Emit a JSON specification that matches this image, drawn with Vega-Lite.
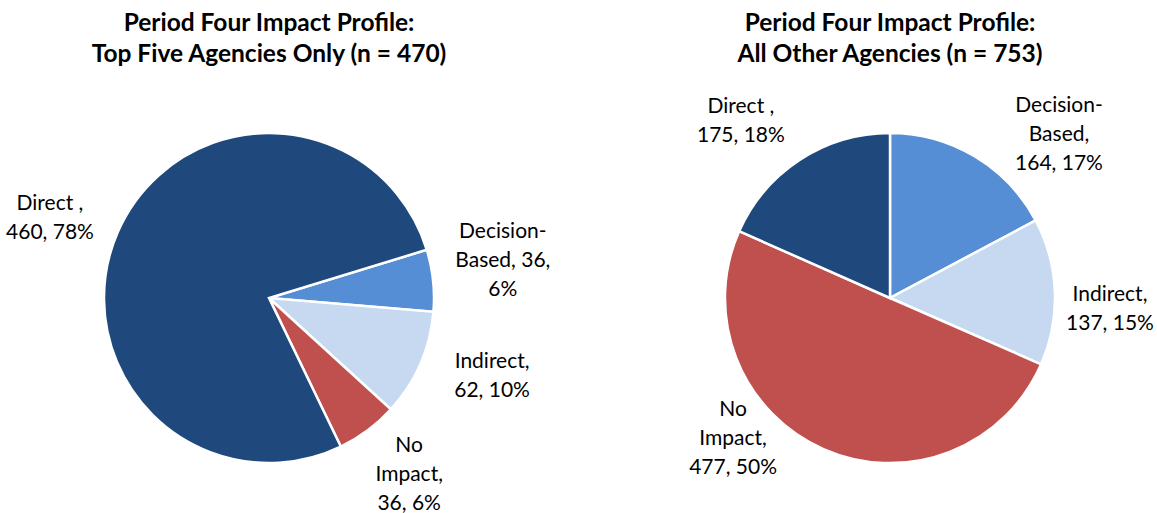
{
  "$schema": "https://vega.github.io/schema/vega-lite/v6.json",
  "padding": {"top": 10, "left": 0, "right": 0, "bottom": 0},
  "background": "white",
  "bounds": "flush",
  "spacing": 85,
  "config": {"view": {"stroke": null}, "font": "Lato"},
  "datasets": {
    "top5": [
      {"category": "Decision-Based", "count": 36, "label": "Decision-\nBased, 36,\n6%", "k": 1},
      {"category": "Indirect", "count": 62, "label": "Indirect,\n62, 10%", "k": 2},
      {"category": "No Impact", "count": 36, "label": "No\nImpact,\n36, 6%", "k": 3},
      {"category": "Direct", "count": 460, "label": "Direct ,\n460, 78%", "k": 4}
    ],
    "others": [
      {"category": "Decision-Based", "count": 164, "label": "Decision-\nBased,\n164, 17%", "k": 1},
      {"category": "Indirect", "count": 137, "label": "Indirect,\n137, 15%", "k": 2},
      {"category": "No Impact", "count": 477, "label": "No\nImpact,\n477, 50%", "k": 3},
      {"category": "Direct", "count": 175, "label": "Direct ,\n175, 18%", "k": 4}
    ]
  },
  "hconcat": [
    {
      "width": 538,
      "height": 420,
      "title": {"text": ["Period Four Impact Profile:", "Top Five Agencies Only (n = 470)"], "fontSize": 24.5, "fontWeight": "bold", "font": "Lato", "lineHeight": 31, "offset": 21, "color": "black", "anchor": "middle"},
      "data": {"name": "top5"},
      "transform": [{"stack": "count", "groupby": [], "sort": [{"field": "k", "order": "ascending"}], "as": ["s0", "s1"]}],
      "encoding": {
        "theta": {"field": "s0", "type": "quantitative", "scale": {"domain": [0, 594], "range": [1.2741, 7.5573], "zero": false}}
      },
      "layer": [
        {"mark": {"type": "arc", "outerRadius": 165, "stroke": "white", "strokeWidth": 2.5},
         "encoding": {"theta2": {"field": "s1"},
           "color": {"field": "category", "type": "nominal", "legend": null, "scale": {"domain": ["Decision-Based", "Indirect", "No Impact", "Direct"], "range": ["#558ED5", "#C6D9F1", "#C0504D", "#1F497D"]}}}},
        {"transform": [{"filter": "datum.category === 'Decision-Based'"}],
         "mark": {"type": "text", "radius": 243, "thetaOffset": 0.0209, "fontSize": 21, "lineBreak": "\n", "lineHeight": 29, "align": "center", "baseline": "middle", "color": "black"},
         "encoding": {"text": {"field": "label"}}},
        {"transform": [{"filter": "datum.category === 'Indirect'"}],
         "mark": {"type": "text", "radius": 232, "thetaOffset": 0.1937, "fontSize": 21, "lineBreak": "\n", "lineHeight": 29, "align": "center", "baseline": "middle", "color": "black"},
         "encoding": {"text": {"field": "label"}}},
        {"transform": [{"filter": "datum.category === 'No Impact'"}],
         "mark": {"type": "text", "radius": 204, "thetaOffset": 0.0733, "fontSize": 21, "lineBreak": "\n", "lineHeight": 29, "align": "center", "baseline": "middle", "color": "black"},
         "encoding": {"text": {"field": "label"}}},
        {"transform": [{"filter": "datum.category === 'Direct'"}],
         "mark": {"type": "text", "radius": 238.5, "thetaOffset": 2.4277, "fontSize": 21, "lineBreak": "\n", "lineHeight": 29, "align": "center", "baseline": "middle", "color": "black"},
         "encoding": {"text": {"field": "label"}}}
      ]
    },
    {
      "width": 534,
      "height": 420,
      "title": {"text": ["Period Four Impact Profile:", "All Other Agencies (n = 753)"], "fontSize": 24.5, "fontWeight": "bold", "font": "Lato", "lineHeight": 31, "offset": 21, "color": "black", "anchor": "middle"},
      "data": {"name": "others"},
      "transform": [{"stack": "count", "groupby": [], "sort": [{"field": "k", "order": "ascending"}], "as": ["s0", "s1"]}],
      "encoding": {
        "theta": {"field": "s0", "type": "quantitative", "scale": {"domain": [0, 953], "range": [0, 6.2832], "zero": false}}
      },
      "layer": [
        {"mark": {"type": "arc", "outerRadius": 165, "stroke": "white", "strokeWidth": 2.5},
         "encoding": {"theta2": {"field": "s1"},
           "color": {"field": "category", "type": "nominal", "legend": null, "scale": {"domain": ["Decision-Based", "Indirect", "No Impact", "Direct"], "range": ["#558ED5", "#C6D9F1", "#C0504D", "#1F497D"]}}}},
        {"transform": [{"filter": "datum.category === 'Decision-Based'"}],
         "mark": {"type": "text", "radius": 255.8, "thetaOffset": 0.7217, "fontSize": 21, "lineBreak": "\n", "lineHeight": 29, "align": "center", "baseline": "middle", "color": "black"},
         "encoding": {"text": {"field": "label"}}},
        {"transform": [{"filter": "datum.category === 'Indirect'"}],
         "mark": {"type": "text", "radius": 220, "thetaOffset": 0.4739, "fontSize": 21, "lineBreak": "\n", "lineHeight": 29, "align": "center", "baseline": "middle", "color": "black"},
         "encoding": {"text": {"field": "label"}}},
        {"transform": [{"filter": "datum.category === 'No Impact'"}],
         "mark": {"type": "text", "radius": 193, "thetaOffset": 2.1066, "fontSize": 21, "lineBreak": "\n", "lineHeight": 29, "align": "center", "baseline": "middle", "color": "black"},
         "encoding": {"text": {"field": "label"}}},
        {"transform": [{"filter": "datum.category === 'Direct'"}],
         "mark": {"type": "text", "radius": 242, "thetaOffset": 0.4901, "fontSize": 21, "lineBreak": "\n", "lineHeight": 29, "align": "center", "baseline": "middle", "color": "black"},
         "encoding": {"text": {"field": "label"}}}
      ]
    }
  ]
}
